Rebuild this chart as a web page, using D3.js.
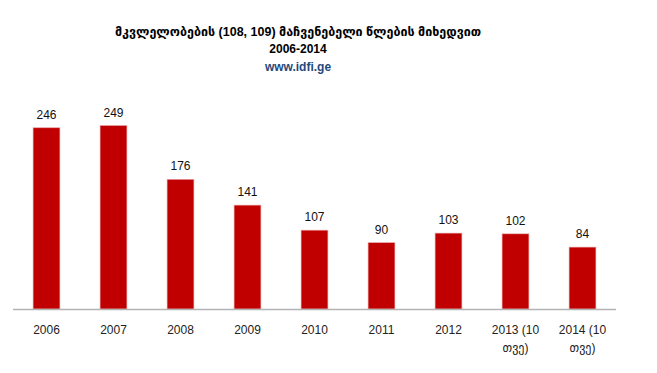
<!DOCTYPE html>
<html>
<head>
<meta charset="utf-8">
<script src="https://cdn.jsdelivr.net/npm/d3@7"></script>
<style>
  body { margin: 0; background: #fff; }
  text { font-family: "Liberation Sans", "DejaVu Sans", sans-serif; }
</style>
</head>
<body>
<script>
// 画布尺寸
var w = 657;
var h = 373;

// 数据
var years = ["2006", "2007", "2008", "2009", "2010", "2011", "2012", "2013 (10 თვე)", "2014 (10 თვე)"];
var values = [246, 249, 176, 141, 107, 90, 103, 102, 84];
var titleLines = ["მკვლელობების (108, 109)  მაჩვენებელი წლების მიხედვით", "2006-2014"];
var siteLabel = "www.idfi.ge";

var barColor = "#c00000";

var svg = d3.select("body").append("svg")
    .attr("width", w)
    .attr("height", h);

// 比例尺
var x = d3.scaleBand()
    .domain(years)
    .range([13, 616])
    .paddingInner(0.6)
    .paddingOuter(0.3);

var y = d3.scaleLinear()
    .domain([0, 300])
    .range([309, 88]);

// 标题
svg.append("text")
    .attr("x", 298).attr("y", 36)
    .attr("text-anchor", "middle")
    .attr("font-size", "12.5px")
    .attr("font-weight", "bold")
    .attr("fill", "#000")
    .text(titleLines[0]);

svg.append("text")
    .attr("x", 298).attr("y", 53)
    .attr("text-anchor", "middle")
    .attr("font-size", "12px")
    .attr("font-weight", "bold")
    .attr("fill", "#000")
    .text(titleLines[1]);

svg.append("text")
    .attr("x", 298).attr("y", 71)
    .attr("text-anchor", "middle")
    .attr("font-size", "12px")
    .attr("font-weight", "bold")
    .attr("fill", "#1f497d")
    .text(siteLabel);

// 柱子
svg.selectAll("rect.bar")
    .data(values)
    .enter()
    .append("rect")
    .attr("class", "bar")
    .attr("x", function (d, i) { return x(years[i]); })
    .attr("y", function (d) { return y(d); })
    .attr("width", x.bandwidth())
    .attr("height", function (d) { return y(0) - y(d); })
    .attr("fill", barColor)
    .attr("stroke", "#e8a0a0")
    .attr("stroke-width", 0.6);

// 数值标签
svg.selectAll("text.val")
    .data(values)
    .enter()
    .append("text")
    .attr("class", "val")
    .attr("x", function (d, i) { return x(years[i]) + x.bandwidth() / 2; })
    .attr("y", function (d) { return y(d) - 9; })
    .attr("text-anchor", "middle")
    .attr("font-size", "12px")
    .attr("fill", "#111")
    .text(function (d) { return d; });

// x轴
svg.append("line")
    .attr("x1", 13).attr("x2", 616)
    .attr("y1", y(0) + 0.5).attr("y2", y(0) + 0.5)
    .attr("stroke", "#b3b3b3")
    .attr("stroke-width", 1.5);

// x轴标签（两行）
svg.selectAll("text.cat")
    .data(years)
    .enter()
    .append("text")
    .attr("class", "cat")
    .attr("text-anchor", "middle")
    .attr("font-size", "12px")
    .attr("fill", "#222")
    .each(function (d) {
        var cx = x(d) + x.bandwidth() / 2;
        var idx = d.indexOf(" თვე");
        var lines = idx > 0 ? [d.slice(0, idx), d.slice(idx + 1)] : [d];
        d3.select(this).selectAll("tspan")
            .data(lines)
            .enter()
            .append("tspan")
            .attr("x", cx)
            .attr("y", function (l, j) { return 334 + j * 18; })
            .text(function (l) { return l; });
    });
</script>
</body>
</html>
